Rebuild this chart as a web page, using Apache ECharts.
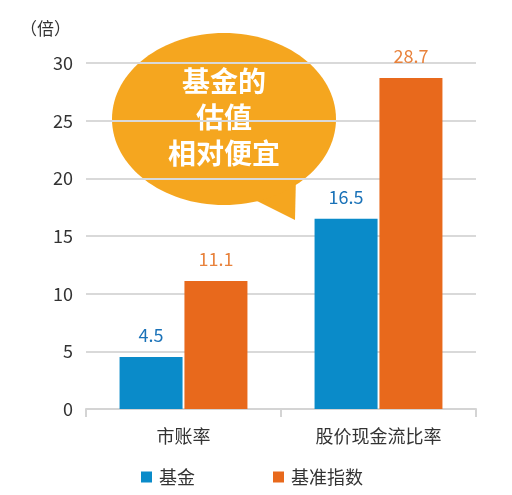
<!DOCTYPE html>
<html>
<head>
<meta charset="utf-8">
<script src="https://cdn.jsdelivr.net/npm/echarts@6/dist/echarts.min.js"></script>
<style>
html,body{margin:0;padding:0;background:#fff;}
#c{width:512px;height:495px;}
</style>
</head>
<body>
<div id="c"></div>
<script>
const categories = ['市账率', '股价现金流比率'];
const fundValues = [4.5, 16.5];
const benchValues = [11.1, 28.7];
const seriesNames = ['基金', '基准指数'];
const yTicks = [0, 5, 10, 15, 20, 25, 30];
const unitLabel = '（倍）';
const bubbleText = '基金的\n估值\n相对便宜';

const FONT = '"Noto Sans CJK SC", "Noto Sans", sans-serif';
const chart = echarts.init(document.getElementById('c'));
chart.setOption({
  backgroundColor: '#ffffff',
  animation: false,
  textStyle: { fontFamily: FONT },
  grid: { left: 86, right: 36, top: 63, bottom: 86 },
  legend: {
    left: 136, top: 463,
    itemWidth: 11, itemHeight: 11, itemGap: 78,
    icon: 'rect',
    textStyle: { fontSize: 18, color: '#333', fontFamily: FONT, padding: [0,0,0,2] },
    data: seriesNames
  },
  xAxis: {
    type: 'category',
    data: categories,
    axisLine: { lineStyle: { color: '#d4d4d4', width: 2 } },
    axisTick: { show: true, length: 8, lineStyle: { color: '#d4d4d4', width: 2 } },
    axisLabel: { fontSize: 18, color: '#333', margin: 18, fontFamily: FONT }
  },
  yAxis: {
    type: 'value',
    min: yTicks[0], max: yTicks[yTicks.length - 1], interval: 5,
    axisLine: { show: false },
    axisTick: { show: false },
    axisLabel: { fontSize: 18, color: '#333', margin: 13, fontFamily: FONT },
    splitLine: { lineStyle: { color: '#d9d9d9', width: 2 } }
  },
  series: [
    {
      name: seriesNames[0], type: 'bar', data: fundValues,
      barWidth: 63, barGap: '3%',
      itemStyle: { color: '#0a8bc9' },
      label: { show: true, position: 'top', distance: 13, fontSize: 18, color: '#1a72b8', fontFamily: FONT }
    },
    {
      name: seriesNames[1], type: 'bar', data: benchValues,
      barWidth: 63, barGap: '3%',
      itemStyle: { color: '#e8691c' },
      label: { show: true, position: 'top', distance: 13, fontSize: 18, color: '#e8823c', fontFamily: FONT }
    }
  ],
  graphic: [
    {
      type: 'text', left: 20, top: 20,
      style: { text: unitLabel, fontSize: 17, fill: '#333', fontFamily: FONT }
    },
    {
      type: 'group', z: 100,
      children: [
        {
          type: 'polygon',
          shape: { points: [[245, 195], [296, 175], [295, 220]] },
          style: { fill: '#f5a61f' }
        },
        {
          type: 'ellipse',
          shape: { cx: 224, cy: 119, rx: 112, ry: 86 },
          style: { fill: '#f5a61f' }
        },
        {
          type: 'text',
          x: 224, y: 117,
          style: {
            text: bubbleText, fontSize: 28, fontWeight: 'bold', fill: '#ffffff',
            align: 'center', verticalAlign: 'middle', lineHeight: 36, fontFamily: FONT
          }
        }
      ]
    }
  ]
});
</script>
</body>
</html>
